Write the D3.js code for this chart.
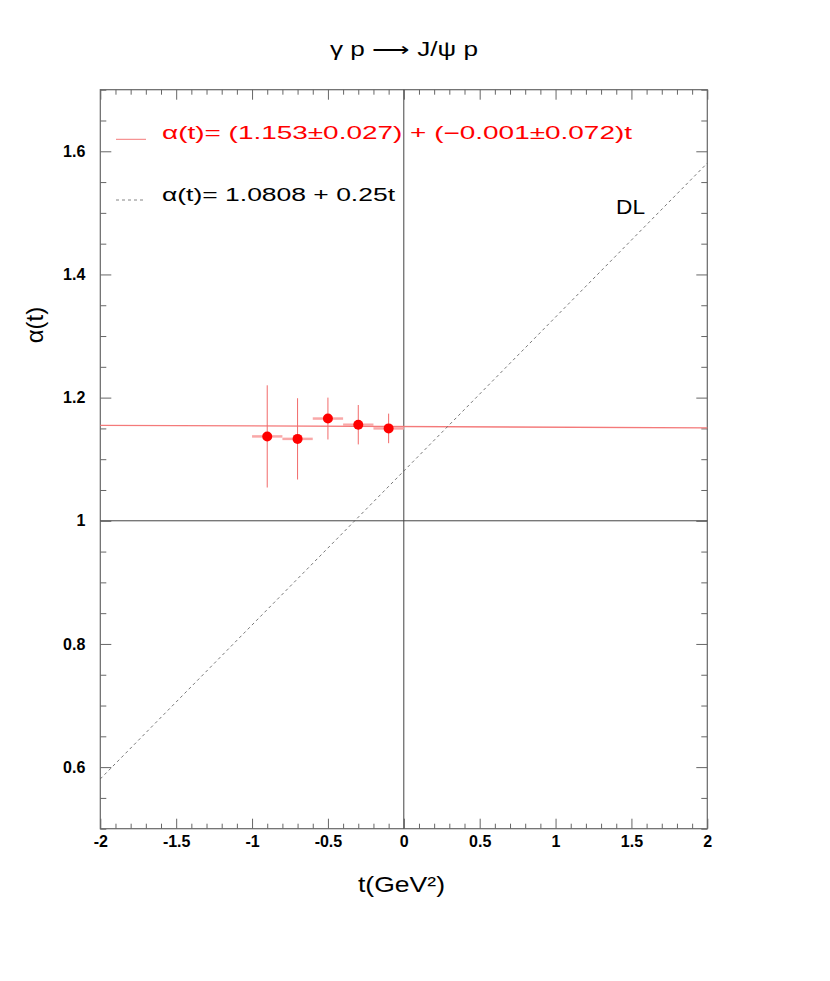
<!DOCTYPE html>
<html><head><meta charset="utf-8">
<script src="https://cdn.jsdelivr.net/npm/d3@7"></script>
<style>body{margin:0;background:#fff;} svg{display:block;}</style>
</head><body>
<script>
// Data
const tVals = [-0.9, -0.7, -0.5, -0.3, -0.1];
const alphaVals = [1.137, 1.133, 1.166, 1.156, 1.150];
const alphaErr = [0.083, 0.066, 0.034, 0.032, 0.024];
const tErr = [0.1, 0.1, 0.1, 0.1, 0.1];
const fitIntercept = 1.153, fitSlope = -0.001;
const dlIntercept = 1.0808, dlSlope = 0.25;
const xMajorTicks = [-2, -1.5, -1, -0.5, 0, 0.5, 1, 1.5, 2];
const yMajorTicks = [0.6, 0.8, 1, 1.2, 1.4, 1.6];
const xDomain = [-2, 2], yDomain = [0.5, 1.7];
const titleText = "γ p ⟶ J/ψ p";
const xLabel = "t(GeV²)";
const yLabel = "α(t)";
const fitLegend = "α(t)= (1.153±0.027) + (−0.001±0.072)t";
const dlLegend = "α(t)= 1.0808 + 0.25t";

const W = 830, H = 981;
const L = 100.3, R = 707.3, T = 89.7, B = 828.7;
const font = "'Liberation Sans', Arial, Helvetica, sans-serif";

const svg = d3.select("body").append("svg").attr("width", W).attr("height", H);
const x = d3.scaleLinear().domain(xDomain).range([L, R]);
const y = d3.scaleLinear().domain(yDomain).range([B, T]);

const xMinor = d3.range(-20, 21).map(d => d / 10).filter(d => !xMajorTicks.some(m => Math.abs(m - d) < 1e-9));
const yMinor = d3.range(10, 35).map(d => d / 20).filter(d => !yMajorTicks.some(m => Math.abs(m - d) < 1e-9));
const fmt = d => String(d);
const axisColor = "#666";

function styleAxis(g) {
  g.select(".domain").remove();
  g.selectAll(".tick line").attr("stroke", axisColor).attr("stroke-width", 1);
  g.selectAll("text").attr("font-family", font).attr("font-weight", "bold").attr("font-size", 16).attr("fill", "#000");
}
// bottom
svg.append("g").attr("transform", `translate(0,${B})`)
  .call(d3.axisBottom(x).tickValues(xMajorTicks).tickFormat(fmt).tickSizeInner(-10).tickSizeOuter(0).tickPadding(7))
  .call(styleAxis);
svg.append("g").attr("transform", `translate(0,${B})`)
  .call(d3.axisBottom(x).tickValues(xMinor).tickFormat("").tickSizeInner(-5).tickSizeOuter(0)).call(styleAxis);
// top
svg.append("g").attr("transform", `translate(0,${T})`)
  .call(d3.axisTop(x).tickValues(xMajorTicks).tickFormat("").tickSizeInner(-10).tickSizeOuter(0)).call(styleAxis);
svg.append("g").attr("transform", `translate(0,${T})`)
  .call(d3.axisTop(x).tickValues(xMinor).tickFormat("").tickSizeInner(-5).tickSizeOuter(0)).call(styleAxis);
// left
svg.append("g").attr("transform", `translate(${L},0)`)
  .call(d3.axisLeft(y).tickValues(yMajorTicks).tickFormat(fmt).tickSizeInner(-11).tickSizeOuter(0).tickPadding(15))
  .call(styleAxis);
svg.append("g").attr("transform", `translate(${L},0)`)
  .call(d3.axisLeft(y).tickValues(yMinor).tickFormat("").tickSizeInner(-6).tickSizeOuter(0)).call(styleAxis);
// right
svg.append("g").attr("transform", `translate(${R},0)`)
  .call(d3.axisRight(y).tickValues(yMajorTicks).tickFormat("").tickSizeInner(-11).tickSizeOuter(0)).call(styleAxis);
svg.append("g").attr("transform", `translate(${R},0)`)
  .call(d3.axisRight(y).tickValues(yMinor).tickFormat("").tickSizeInner(-6).tickSizeOuter(0)).call(styleAxis);

// frame
svg.append("rect").attr("x", L).attr("y", T).attr("width", R - L).attr("height", B - T)
  .attr("fill", "none").attr("stroke", axisColor).attr("stroke-width", 1.2);

// zero lines
svg.append("line").attr("x1", x(0)).attr("x2", x(0)).attr("y1", T).attr("y2", B).attr("stroke", "#444").attr("stroke-width", 1);
svg.append("line").attr("x1", L).attr("x2", R).attr("y1", y(1)).attr("y2", y(1)).attr("stroke", "#444").attr("stroke-width", 1);

// fit line
const line = d3.line().x(d => x(d[0])).y(d => y(d[1]));
svg.append("path").datum(xDomain.map(t => [t, fitIntercept + fitSlope * t]))
  .attr("d", line).attr("stroke", "#f47a7a").attr("stroke-width", 1.3).attr("fill", "none");
// DL line
svg.append("path").datum(xDomain.map(t => [t, dlIntercept + dlSlope * t]))
  .attr("d", line).attr("stroke", "#555").attr("stroke-width", 0.8).attr("stroke-dasharray", "3,3").attr("fill", "none");

// data
const pts = tVals.map((t, i) => ({t, a: alphaVals[i], ea: alphaErr[i], et: tErr[i]}));
const g = svg.append("g");
g.selectAll(".hx").data(pts).join("line")
  .attr("x1", d => x(d.t - d.et)).attr("x2", d => x(d.t + d.et))
  .attr("y1", d => y(d.a)).attr("y2", d => y(d.a))
  .attr("stroke", "#f9a8a8").attr("stroke-width", 2.5);
g.selectAll(".vy").data(pts).join("line")
  .attr("x1", d => x(d.t)).attr("x2", d => x(d.t))
  .attr("y1", d => y(d.a - d.ea)).attr("y2", d => y(d.a + d.ea))
  .attr("stroke", "#f26a6a").attr("stroke-width", 1);
g.selectAll("circle").data(pts).join("circle")
  .attr("cx", d => x(d.t)).attr("cy", d => y(d.a)).attr("r", 5)
  .attr("fill", "#ff0000");

// legend
svg.append("line").attr("x1", 116).attr("x2", 146).attr("y1", 139.3).attr("y2", 139.3)
  .attr("stroke", "#f47a7a").attr("stroke-width", 1);
svg.append("text").attr("x", 162).attr("y", 139).attr("font-family", font).attr("font-size", 18)
  .attr("fill", "#ff0000").attr("textLength", 470).attr("lengthAdjust", "spacingAndGlyphs").text(fitLegend);
svg.append("line").attr("x1", 116).attr("x2", 146).attr("y1", 200).attr("y2", 200)
  .attr("stroke", "#666").attr("stroke-width", 0.8).attr("stroke-dasharray", "3,3");
svg.append("text").attr("x", 162).attr("y", 201).attr("font-family", font).attr("font-size", 18)
  .attr("fill", "#000").attr("textLength", 233).attr("lengthAdjust", "spacingAndGlyphs").text(dlLegend);

// DL label
svg.append("text").attr("x", 616).attr("y", 214).attr("font-family", font).attr("font-size", 20)
  .attr("fill", "#000").attr("textLength", 29).attr("lengthAdjust", "spacingAndGlyphs").text("DL");

// title
svg.append("text").attr("x", 330).attr("y", 56).attr("font-family", font)
  .attr("font-size", 20).attr("fill", "#000").attr("textLength", 148).attr("lengthAdjust", "spacingAndGlyphs").text(titleText);
// x label
svg.append("text").attr("x", 358).attr("y", 892).attr("font-family", font)
  .attr("font-size", 22).attr("fill", "#000").attr("textLength", 87).attr("lengthAdjust", "spacingAndGlyphs").text(xLabel);
// y label
svg.append("text").attr("transform", `translate(43,325) rotate(-90)`).attr("text-anchor", "middle")
  .attr("font-family", font).attr("font-size", 24).attr("fill", "#000").text(yLabel);
</script>
</body></html>
